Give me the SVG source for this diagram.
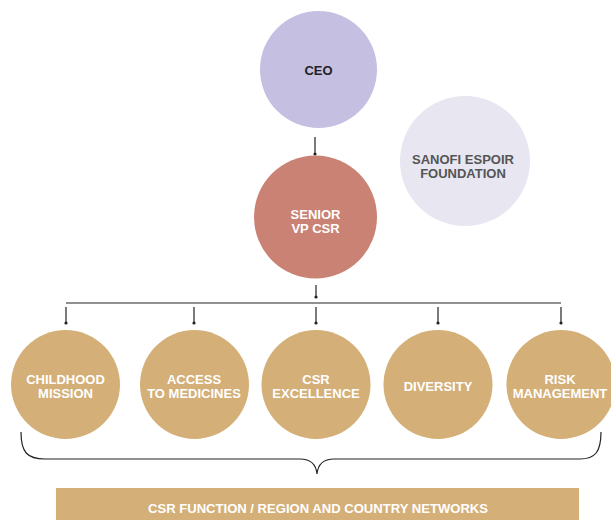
<svg xmlns="http://www.w3.org/2000/svg" width="611" height="520" viewBox="0 0 611 520">
<defs>
<marker id="dot" viewBox="0 0 4 4" refX="2" refY="2" markerWidth="4" markerHeight="4" markerUnits="userSpaceOnUse"><circle cx="2" cy="2" r="1.6" fill="#222"/></marker>
<style>
.t{font-family:"Liberation Sans",Arial,sans-serif;font-weight:bold;font-size:13px;text-anchor:middle}
.w{fill:#ffffff}
.gold{fill:#d4af78}
.ln{stroke:#222;stroke-width:1.2;fill:none}
</style>
</defs>
<g id="connectors">
<line class="ln" x1="315" y1="137" x2="315" y2="154" marker-end="url(#dot)"/>
<line class="ln" x1="316" y1="285" x2="316" y2="297" marker-end="url(#dot)"/>
<line class="ln" x1="66" y1="303" x2="561" y2="303"/>
<line class="ln" x1="66" y1="307" x2="66" y2="323" marker-end="url(#dot)"/>
<line class="ln" x1="194" y1="307" x2="194" y2="323" marker-end="url(#dot)"/>
<line class="ln" x1="316" y1="307" x2="316" y2="323" marker-end="url(#dot)"/>
<line class="ln" x1="438" y1="307" x2="438" y2="323" marker-end="url(#dot)"/>
<line class="ln" x1="561" y1="307" x2="561" y2="323" marker-end="url(#dot)"/>
<path class="ln" d="M21,432 C21,452 27,459 45,459 L300,459 C311,459 316,464 317,474 C318,464 323,459 334,459 L580,459 C595,459 601,452 601,432"/>
</g>
<g id="ceo">
<circle cx="318.5" cy="69.5" r="58.5" fill="#c5c0e2"/>
<text class="t" x="318.5" y="75" fill="#222">CEO</text>
</g>
<g id="sanofi">
<circle cx="465" cy="161" r="65" fill="#e7e6f1"/>
<text class="t" x="463" y="164" fill="#555">SANOFI ESPOIR</text>
<text class="t" x="463" y="178" fill="#555">FOUNDATION</text>
</g>
<g id="senior">
<circle cx="315.5" cy="217" r="61.5" fill="#c98273"/>
<text class="t w" x="315.5" y="219">SENIOR</text>
<text class="t w" x="315.5" y="233">VP CSR</text>
</g>
<g id="childhood">
<circle class="gold" cx="65.5" cy="384.5" r="54.5"/>
<text class="t w" x="65.5" y="384">CHILDHOOD</text>
<text class="t w" x="65.5" y="398">MISSION</text>
</g>
<g id="access">
<circle class="gold" cx="194.5" cy="384.5" r="54.5"/>
<text class="t w" x="194" y="384">ACCESS</text>
<text class="t w" x="194" y="398">TO MEDICINES</text>
</g>
<g id="excellence">
<circle class="gold" cx="316" cy="384.5" r="54.5"/>
<text class="t w" x="316" y="384">CSR</text>
<text class="t w" x="316" y="398">EXCELLENCE</text>
</g>
<g id="diversity">
<circle class="gold" cx="438" cy="384.5" r="54.5"/>
<text class="t w" x="438" y="391">DIVERSITY</text>
</g>
<g id="risk">
<circle class="gold" cx="561" cy="384.5" r="54.5"/>
<text class="t w" x="560" y="384">RISK</text>
<text class="t w" x="560" y="398">MANAGEMENT</text>
</g>
<g id="networks">
<rect class="gold" x="56" y="488" width="523" height="32"/>
<text class="t w" x="318" y="513" style="font-size:12.5px" textLength="340" lengthAdjust="spacingAndGlyphs">CSR FUNCTION / REGION AND COUNTRY NETWORKS</text>
</g>
</svg>
